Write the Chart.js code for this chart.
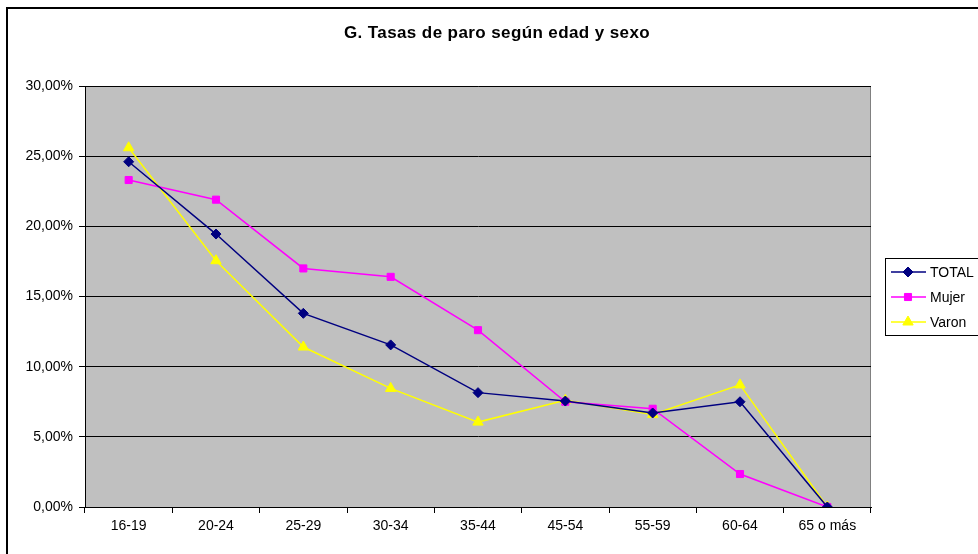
<!DOCTYPE html>
<html>
<head>
<meta charset="utf-8">
<script src="https://cdn.jsdelivr.net/npm/chart.js@4/dist/chart.umd.min.js"></script>
<style>
  html, body { margin: 0; padding: 0; background: #fff; overflow: hidden; }
  #wrap { width: 978px; height: 554px; }
</style>
</head>
<body>
<div id="wrap"><canvas id="paro" width="978" height="554"></canvas></div>
<script>
const categories = ['16-19', '20-24', '25-29', '30-34', '35-44', '45-54', '55-59', '60-64', '65 o más'];
const total = [24.6, 19.45, 13.8, 11.55, 8.15, 7.55, 6.7, 7.5, 0];
const mujer = [23.3, 21.9, 17.0, 16.4, 12.6, 7.5, 7.0, 2.35, 0];
const varon = [25.6, 17.55, 11.4, 8.45, 6.05, 7.6, 6.6, 8.7, 0];
const yTicks = [0, 5, 10, 15, 20, 25, 30];

const font = 'Liberation Sans, Arial, sans-serif';
const fmt = v => v.toFixed(2).replace('.', ',') + '%';

// frame, plot background, title and legend box
const decor = {
  id: 'decor',
  beforeDraw(chart) {
    const c = chart.ctx, a = chart.chartArea;
    c.save();
    c.fillStyle = '#c0c0c0';
    c.fillRect(a.left, a.top, a.right - a.left, a.bottom - a.top);
    c.strokeStyle = '#808080';
    c.lineWidth = 1;
    c.strokeRect(a.left + 0.5, a.top + 0.5, a.right - a.left - 1, a.bottom - a.top);
    c.restore();
  },
  afterDraw(chart) {
    const c = chart.ctx;
    c.save();
    c.strokeStyle = '#000';
    c.lineWidth = 2;
    c.strokeRect(7, 8, 1100, 1100);
    c.fillStyle = '#000';
    c.font = 'bold 17px ' + font;
    c.letterSpacing = '0.4px';
    c.textAlign = 'center';
    c.textBaseline = 'middle';
    c.fillText('G. Tasas de paro según edad y sexo', 497, 33);
    c.letterSpacing = '0px';

    // legend
    c.lineWidth = 1;
    c.strokeRect(885.5, 258.5, 200, 77);
    c.font = '14px ' + font;
    c.textAlign = 'left';
    chart.data.datasets.forEach((ds, i) => {
      const y = 272 + i * 25;
      c.strokeStyle = ds.borderColor;
      c.lineWidth = 1.5;
      c.beginPath();
      c.moveTo(891, y);
      c.lineTo(926, y);
      c.stroke();
      c.fillStyle = ds.pointBackgroundColor;
      c.strokeStyle = ds.pointBorderColor;
      c.lineWidth = 1;
      Chart.helpers.drawPoint(c, {
        pointStyle: ds.pointStyle, radius: ds.pointRadius, rotation: 0, borderWidth: 1
      }, 908, y);
      c.fillStyle = '#000';
      c.fillText(ds.label, 930, y + 1);
    });
    c.restore();
  }
};

new Chart(document.getElementById('paro'), {
  type: 'line',
  data: {
    labels: categories,
    datasets: [
      { label: 'TOTAL', data: total, borderColor: '#000080', backgroundColor: '#000080',
        pointBackgroundColor: '#000080', pointBorderColor: '#000080', pointStyle: 'rectRot', pointRadius: 5 },
      { label: 'Mujer', data: mujer, borderColor: '#ff00ff', backgroundColor: '#ff00ff',
        pointBackgroundColor: '#ff00ff', pointBorderColor: '#ff00ff', pointStyle: 'rect', pointRadius: 5 },
      { label: 'Varon', data: varon, borderColor: '#ffff00', backgroundColor: '#ffff00',
        pointBackgroundColor: '#ffff00', pointBorderColor: '#ffff00', pointStyle: 'triangle', pointRadius: 6 }
    ]
  },
  options: {
    responsive: false,
    animation: false,
    devicePixelRatio: 1,
    elements: { line: { borderWidth: 1.5, tension: 0 }, point: { borderWidth: 1 } },
    layout: { padding: { left: 0, top: 86, right: 107, bottom: 0 } },
    plugins: { legend: { display: false }, title: { display: false }, tooltip: { enabled: false } },
    scales: {
      x: {
        offset: true,
        grid: { offset: true, drawOnChartArea: false, drawTicks: true, tickLength: 6, color: '#000' },
        border: { color: '#000', width: 1 },
        ticks: { color: '#000', font: { family: font, size: 14 }, padding: 5, maxRotation: 0 },
        afterFit(s) { s.height = 47; }
      },
      y: {
        min: 0, max: 30,
        afterBuildTicks(s) { s.ticks = yTicks.map(v => ({ value: v })); },
        grid: { color: '#000', drawTicks: true, tickLength: 6 },
        border: { color: '#000', width: 1 },
        ticks: { color: '#000', font: { family: font, size: 14 }, padding: 6, callback: v => fmt(v) },
        afterFit(s) { s.width = 85; }
      }
    }
  },
  plugins: [decor]
});
</script>
</body>
</html>
